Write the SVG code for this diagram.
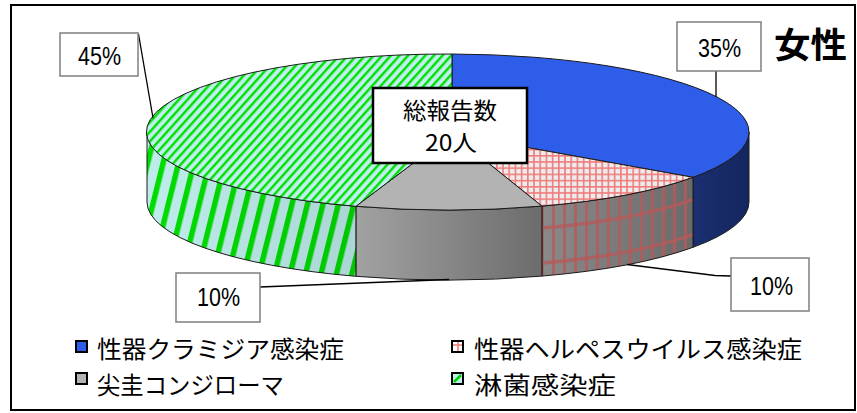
<svg xmlns="http://www.w3.org/2000/svg" width="857" height="413" viewBox="0 0 857 413">
<style>
.jp{font-family:"Noto Sans CJK JP","Noto Sans",sans-serif;fill:#000}
.pct{font-family:"Liberation Sans",Arial,sans-serif;font-size:25px;fill:#000}
.lbl{fill:#fff;stroke:#7f7f7f;stroke-width:1.5}
.edge{stroke:#1a1a1a;stroke-width:1;stroke-linejoin:round}
.lead{fill:none;stroke:#000;stroke-width:1.3}
.key{stroke:#000;stroke-width:2}
</style>
<defs>
<pattern id="pinkTop" width="6.2" height="6.2" patternUnits="userSpaceOnUse">
<rect width="6.2" height="6.2" fill="#ECECEC"/>
<path d="M0 0.8H6.2M0.8 0V6.2" stroke="#F07C7C" stroke-width="1.6"/>
</pattern>
<pattern id="pinkSide" width="11" height="10" patternUnits="userSpaceOnUse" x="2">
<rect x="0" width="3" height="10" fill="#B45A5A" opacity="0.8"/>
</pattern>
<pattern id="greenTop" width="6.4" height="6.4" patternUnits="userSpaceOnUse" patternTransform="rotate(42)">
<rect width="6.4" height="6.4" fill="#BEEFEC"/>
<rect width="2.4" height="6.4" fill="#00E000"/>
</pattern>
<pattern id="greenSide" width="15" height="16" patternUnits="userSpaceOnUse" patternTransform="rotate(14)">
<rect width="15" height="16" fill="#BEEDEC"/>
<rect width="5.5" height="16" fill="#00DD00"/>
</pattern>
<pattern id="pinkKey" width="12" height="12" patternUnits="userSpaceOnUse" x="452" y="340">
<rect width="12" height="12" fill="#fff"/>
<path d="M0 5H12M6 0V12" stroke="#F07C7C" stroke-width="1.6"/>
</pattern>
<linearGradient id="grayG" x1="0" y1="0" x2="1" y2="0">
<stop offset="0" stop-color="#A2A2A2"/><stop offset="1" stop-color="#6C6C6C"/>
</linearGradient>
<linearGradient id="pinkG" x1="0" y1="0" x2="1" y2="0">
<stop offset="0" stop-color="#8A8A8A"/><stop offset="1" stop-color="#6A6A6A"/>
</linearGradient>
<linearGradient id="shadeG" x1="0" y1="0" x2="1" y2="0">
<stop offset="0" stop-color="#000" stop-opacity="0"/><stop offset="1" stop-color="#000" stop-opacity="0.1"/>
</linearGradient>
<linearGradient id="blueG" x1="0" y1="0" x2="1" y2="0">
<stop offset="0" stop-color="#1B2F72"/><stop offset="1" stop-color="#14265E"/>
</linearGradient>
</defs>

<rect x="11" y="5" width="844" height="405" fill="#fff" stroke="#000" stroke-width="2"/>

<g id="slice-chlamydia">
<path d="M749,132 A301,78 0 0 1 693,177.3 L693,247.3 A301,78 0 0 0 749,202 Z" fill="url(#blueG)" class="edge"/>
<path d="M452,134 L452,54 A301,78 0 0 1 693,177.3 Z" fill="#2D5DE9" class="edge"/>
</g>

<g id="slice-herpes">
<path d="M693,177.3 A301,78 0 0 1 541.9,206.1 L541.9,276.1 A301,78 0 0 0 693,247.3 Z" fill="url(#pinkG)"/>
<path d="M693,177.3 A301,78 0 0 1 541.9,206.1 L541.9,276.1 A301,78 0 0 0 693,247.3 Z" fill="url(#pinkSide)"/>
<path d="M693,199.3 A301,78 0 0 1 541.9,228.1 M693,234.3 A301,78 0 0 1 541.9,263.1" fill="none" stroke="#B45A5A" stroke-width="3.5" opacity="0.8"/>
<path d="M693,177.3 A301,78 0 0 1 541.9,206.1 L541.9,276.1 A301,78 0 0 0 693,247.3 Z" fill="none" class="edge"/>
<path d="M452,134 L693,177.3 A301,78 0 0 1 541.9,206.1 Z" fill="url(#pinkTop)" class="edge"/>
</g>

<g id="slice-condyloma">
<path d="M541.9,206.1 A301,78 0 0 1 355.9,206.3 L355.9,276.3 A301,78 0 0 0 541.9,276.1 Z" fill="url(#grayG)" class="edge"/>
<path d="M452,134 L541.9,206.1 A301,78 0 0 1 355.9,206.3 Z" fill="#B3B3B3" class="edge"/>
</g>

<g id="slice-gonorrhea">
<path d="M355.9,206.3 A301,78 0 0 1 147,132 L147,202 A301,78 0 0 0 355.9,276.3 Z" fill="url(#greenSide)"/>
<path d="M355.9,206.3 A301,78 0 0 1 147,132 L147,202 A301,78 0 0 0 355.9,276.3 Z" fill="url(#shadeG)" class="edge"/>
<path d="M452,134 L355.9,206.3 A301,78 0 0 1 452,54 Z" fill="url(#greenTop)" class="edge"/>
</g>

<g id="connectors">
<path class="lead" d="M138.5,34 L153,118"/>
<path class="lead" d="M716,71 L716,97"/>
<path class="lead" d="M731,276 L715,275.5 L627,264.5"/>
<path class="lead" d="M260,287 L449,279.5"/>
</g>

<g id="label-45">
<rect class="lbl" x="60" y="33" width="78" height="43"/>
<text class="pct" x="78" y="65" textLength="43" lengthAdjust="spacingAndGlyphs">45%</text>
</g>
<g id="label-35">
<rect class="lbl" x="677" y="22" width="84" height="49"/>
<text class="pct" x="698" y="57" textLength="43" lengthAdjust="spacingAndGlyphs">35%</text>
</g>
<g id="label-10-right">
<rect class="lbl" x="731" y="258" width="78" height="53"/>
<text class="pct" x="750" y="295" textLength="43" lengthAdjust="spacingAndGlyphs">10%</text>
</g>
<g id="label-10-left">
<rect class="lbl" x="176" y="273" width="84" height="49"/>
<text class="pct" x="197" y="306" textLength="43" lengthAdjust="spacingAndGlyphs">10%</text>
</g>

<g id="total-box">
<rect x="373" y="88" width="154" height="75" fill="#fff" stroke="#000" stroke-width="2.5"/>
<text class="jp" x="403" y="118.5" font-size="22.5" textLength="94" lengthAdjust="spacingAndGlyphs">総報告数</text>
<text class="jp" x="425" y="150.5" font-size="22.5" textLength="52" lengthAdjust="spacingAndGlyphs">20人</text>
</g>

<g id="title">
<text class="jp" x="774" y="58" font-size="35" font-weight="bold" textLength="73" lengthAdjust="spacingAndGlyphs">女性</text>
</g>

<g id="legend">
<rect class="key" x="76" y="341" width="11" height="11" fill="#2D5DE9"/>
<text class="jp" x="97" y="357.5" font-size="24" textLength="247" lengthAdjust="spacingAndGlyphs">性器クラミジア感染症</text>
<rect class="key" x="452" y="341" width="11" height="11" fill="url(#pinkKey)"/>
<text class="jp" x="474" y="357.5" font-size="24" textLength="328" lengthAdjust="spacingAndGlyphs">性器ヘルペスウイルス感染症</text>
<rect class="key" x="76" y="373" width="11" height="11" fill="#B4B4B4"/>
<text class="jp" x="97" y="393.5" font-size="24" textLength="187" lengthAdjust="spacingAndGlyphs">尖圭コンジローマ</text>
<rect class="key" x="452" y="373" width="11" height="11" fill="#BEEFEC"/>
<path d="M454,382 L461,375" stroke="#00D000" stroke-width="2.5"/>
<text class="jp" x="474" y="393.5" font-size="24" textLength="142" lengthAdjust="spacingAndGlyphs">淋菌感染症</text>
</g>
</svg>
